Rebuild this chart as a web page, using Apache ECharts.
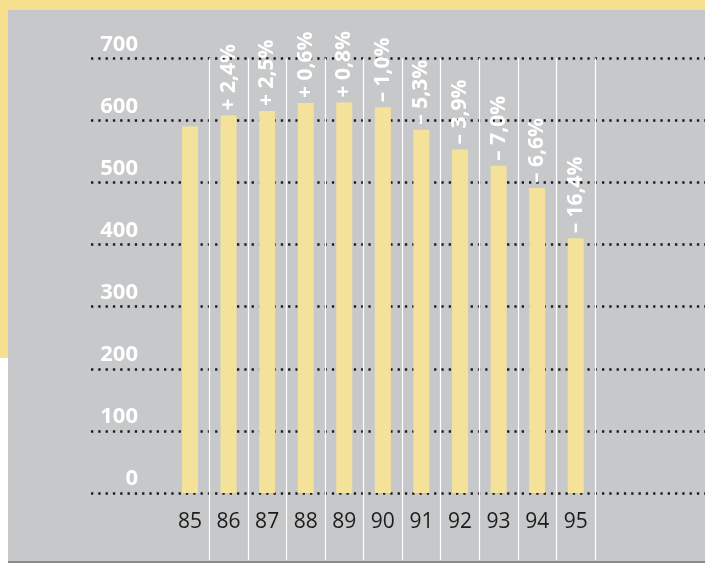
<!DOCTYPE html>
<html>
<head>
<meta charset="utf-8">
<script src="https://cdn.jsdelivr.net/npm/echarts@6/dist/echarts.min.js"></script>
<style>
html,body{margin:0;padding:0;background:#ffffff;}
#chart{width:705px;height:568px;}
</style>
</head>
<body>
<div id="chart"></div>
<script>
var years = ['85', '86', '87', '88', '89', '90', '91', '92', '93', '94', '95'];
var values = [590, 608, 615, 628, 629, 621, 585, 553, 527, 491, 410];
var changes = ['', '+ 2,4%', '+ 2,5%', '+ 0,6%', '+ 0,8%', '\u2013 1,0%', '\u2013 5,3%', '\u2013 3,9%', '\u2013 7,0%', '\u2013 6,6%', '\u2013 16,4%'];
var yTicks = [0, 100, 200, 300, 400, 500, 600, 700];

var chart = echarts.init(document.getElementById('chart'), null, {renderer: 'canvas'});

var option = {
  animation: false,
  backgroundColor: '#ffffff',
  graphic: [
    {type: 'rect', z: -10, shape: {x: 0, y: 0, width: 705, height: 10}, style: {fill: '#f6df8e'}},
    {type: 'rect', z: -10, shape: {x: 0, y: 0, width: 8, height: 358}, style: {fill: '#f6df8e'}},
    {type: 'rect', z: -9, shape: {x: 8, y: 10, width: 697, height: 552}, style: {fill: '#c7c8ca'}},
    {type: 'rect', z: -9, shape: {x: 8, y: 561, width: 697, height: 2}, style: {fill: '#8a8a8a'}}
  ],
  grid: [
    {left: 91, right: 0, top: 58.3, height: 434.7, containLabel: false},
    {left: 170.7, width: 424.3, top: 58.3, bottom: 8, containLabel: false}
  ],
  xAxis: [
    {gridIndex: 0, type: 'value', show: false, min: 0, max: 1},
    {
      gridIndex: 1,
      type: 'category',
      data: years,
      boundaryGap: true,
      axisLine: {show: false},
      axisTick: {show: false},
      axisLabel: {
        interval: 0,
        margin: -48,
        color: '#1c1c1c',
        fontFamily: 'Open Sans',
        fontSize: 21
      },
      splitLine: {
        show: true,
        showMinLine: false,
        showMaxLine: true,
        lineStyle: {color: '#ffffff', width: 1.2, type: 'solid'}
      }
    }
  ],
  yAxis: [
    {
      gridIndex: 0,
      type: 'value',
      min: yTicks[0],
      max: yTicks[yTicks.length - 1],
      interval: 100,
      axisLine: {show: false},
      axisTick: {show: false},
      axisLabel: {
        inside: true,
        margin: 47,
        align: 'right',
        verticalAlign: 'bottom',
        padding: [0, 0, 3, 0],
        color: '#ffffff',
        fontFamily: 'Open Sans',
        fontWeight: 'bold',
        fontSize: 22
      },
      splitLine: {
        show: true,
        lineStyle: {color: '#1a1a1a', width: 2.5, type: [2.3, 5]}
      }
    },
    {
      gridIndex: 1,
      type: 'value',
      min: -108,
      max: 700,
      show: false,
      splitLine: {show: false}
    }
  ],
  series: [
    {
      type: 'bar',
      xAxisIndex: 1,
      yAxisIndex: 1,
      data: values,
      barWidth: 16,
      itemStyle: {color: '#f5e29a'},
      label: {
        show: true,
        position: 'top',
        rotate: 90,
        align: 'left',
        verticalAlign: 'middle',
        distance: 5,
        color: '#ffffff',
        fontFamily: 'Open Sans',
        fontWeight: 'bold',
        fontSize: 21,
        formatter: function (p) { return changes[p.dataIndex]; }
      }
    }
  ]
};
chart.setOption(option);
</script>
</body>
</html>
